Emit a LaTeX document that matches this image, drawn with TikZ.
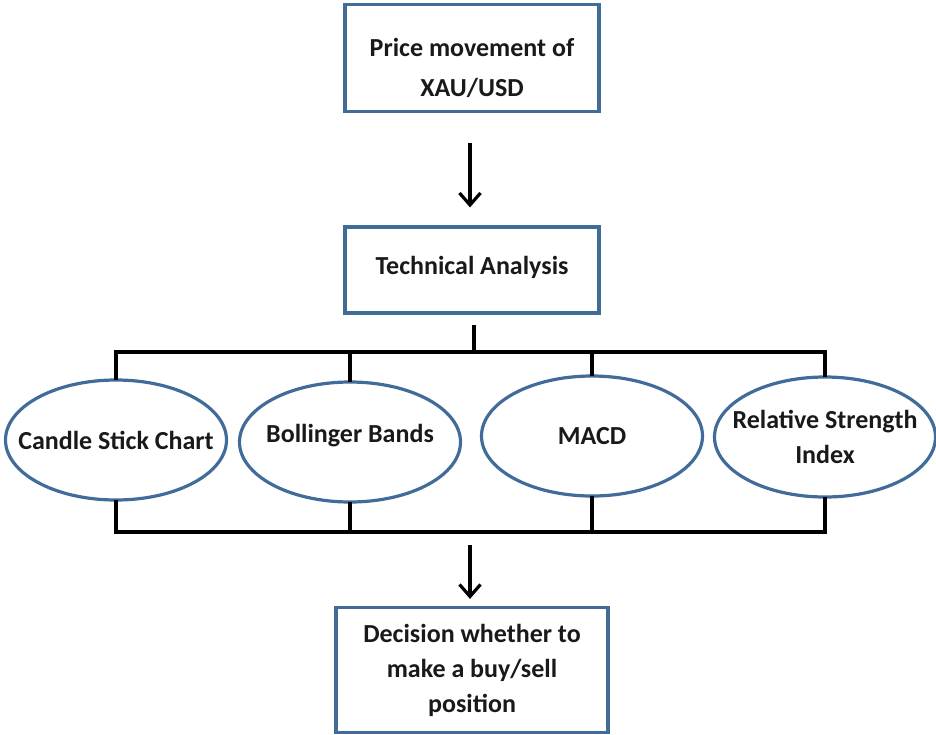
\documentclass[tikz,border=0pt]{standalone}
\usepackage{fontspec}
\setmainfont{Carlito}
\usepackage{xcolor}
\usepackage{tikz}
\usetikzlibrary{arrows.meta,positioning,shapes.geometric}

\definecolor{boxblue}{RGB}{65,107,152}

\begin{document}
\begin{tikzpicture}[
  x=1pt, y=-1pt,
  box/.style={draw=boxblue, line width=3.2pt, align=center, inner sep=0pt,
    font=\fontsize{26}{40}\selectfont\bfseries, text=black!90},
  oval/.style={box, ellipse, inner xsep=-32pt, minimum width=221pt, minimum height=120pt},
  link/.style={draw, line width=3.6pt, line cap=rect},
  arrow/.style={draw, line width=3.2pt, -{Straight Barb[length=12pt, width=21pt]}}]
  \useasboundingbox (0,0) rectangle (936,734);
  \node[box, minimum width=254pt, minimum height=107pt] (price) at (472,58)
    {\raisebox{-10pt}[\height][\depth]{\begin{tabular}{@{}c@{}}Price movement of\\XAU/USD\end{tabular}}};
  \node[box, minimum width=254pt, minimum height=86pt] (tech) at (472,270)
    {\raisebox{3pt}[\height][\depth]{Technical Analysis}};
  \node[oval] (candle) at (116,440) {Candle Stick Chart};
  \node[oval] (bands) at (350,442) {\raisebox{6pt}[\height][\depth]{Bollinger Bands}};
  \node[oval] (macd) at (592,436) {MACD};
  \node[oval, font=\fontsize{26}{35}\selectfont\bfseries] (rsi) at (825,437)
    {Relative Strength\\Index};
  \node[box, minimum width=272pt, minimum height=125pt,
    font=\fontsize{26}{35}\selectfont\bfseries] (decision) at (472,670)
    {Decision whether to\\make a buy/sell\\position};
  \coordinate (topbar) at (474,352);
  \coordinate (botbar) at (470,532);
  % price -> analysis
  \draw[arrow, shorten <=30pt, shorten >=18pt] (price.south -| 470,0) -- (tech.north -| 470,0);
  % analysis -> indicators
  \draw[link, shorten <=12pt] (tech.south -| topbar) -- (topbar);
  \draw[link] (candle.north) -- (candle.north |- topbar) -- (rsi.north |- topbar) -- (rsi.north);
  \draw[link] (bands.north) -- (bands.north |- topbar);
  \draw[link] (macd.north) -- (macd.north |- topbar);
  % indicators -> decision
  \draw[link] (candle.south) -- (candle.south |- botbar) -- (rsi.south |- botbar) -- (rsi.south);
  \draw[link] (bands.south) -- (bands.south |- botbar);
  \draw[link] (macd.south) -- (macd.south |- botbar);
  \draw[arrow, shorten <=13pt, shorten >=7pt] (botbar) -- (decision.north -| botbar);
\end{tikzpicture}
\end{document}
